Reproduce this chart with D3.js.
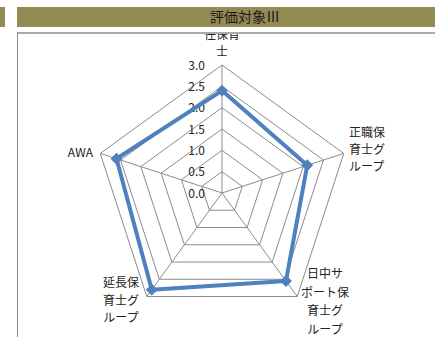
<!DOCTYPE html>
<html>
  <head>
    <meta charset="utf-8" />
    <style>
      body { margin: 0; background: #fff; }
      text { font-family: "Noto Sans CJK JP", "Noto Sans", sans-serif; }
    </style>
  </head>
  <body>
    <svg id="chart"></svg>
    <script src="https://d3js.org/d3.v7.min.js"></script>
    <script>
      const title = "評価対象Ⅲ";
      const categories = [
        ["任保育", "士"],
        ["正職保", "育士グ", "ループ"],
        ["日中サ", "ポート保", "育士グ", "ループ"],
        ["延長保", "育士グ", "ループ"],
        ["AWA"]
      ];
      const values = [2.4, 2.1, 2.55, 2.8, 2.6];
      const ticks = [0, 0.5, 1.0, 1.5, 2.0, 2.5, 3.0];

      const width = 435, height = 339;
      const cx = 222, cy = 193, radius = 128;

      const svg = d3.select("#chart").attr("width", width).attr("height", height);

      // title bar
      svg.append("rect").attr("x", 0).attr("y", 7).attr("width", 5).attr("height", 20).attr("fill", "#948a54");
      svg.append("rect").attr("x", 17).attr("y", 7).attr("width", width - 17).attr("height", 20).attr("fill", "#948a54");
      svg.append("text").attr("x", 245).attr("y", 22).attr("text-anchor", "middle")
        .attr("font-size", 14).attr("fill", "#1a1a1a").text(title);

      // chart area, clipped at its top border
      svg.append("clipPath").attr("id", "area")
        .append("rect").attr("x", 17).attr("y", 34).attr("width", width).attr("height", height);
      const g = svg.append("g").attr("clip-path", "url(#area)");

      svg.append("line").attr("x1", 17).attr("x2", width).attr("y1", 33).attr("y2", 33)
        .attr("stroke", "#aaa").attr("stroke-width", 2);
      svg.append("line").attr("x1", 17.5).attr("x2", 17.5).attr("y1", 33).attr("y2", 337)
        .attr("stroke", "#888").attr("stroke-width", 1);

      const r = d3.scaleLinear().domain([0, 3]).range([0, radius]);
      const angle = (i) => (i * 2 * Math.PI) / categories.length - Math.PI / 2;
      const pt = (i, v) => [cx + r(v) * Math.cos(angle(i)), cy + r(v) * Math.sin(angle(i))];

      // grid rings
      ticks.slice(1).forEach((t) => {
        g.append("polygon")
          .attr("points", categories.map((c, i) => pt(i, t).join(",")).join(" "))
          .attr("fill", "none").attr("stroke", "#8c8c8c").attr("stroke-width", 1);
      });
      // spokes
      categories.forEach((c, i) => {
        const [x, y] = pt(i, 3);
        g.append("line").attr("x1", cx).attr("y1", cy).attr("x2", x).attr("y2", y)
          .attr("stroke", "#8c8c8c").attr("stroke-width", 1);
      });

      // tick labels
      ticks.forEach((t) => {
        g.append("text").attr("x", 205).attr("y", cy - r(t) + 4.5)
          .attr("text-anchor", "end").attr("font-size", 12).attr("fill", "#222")
          .text(t.toFixed(1));
      });

      // category labels
      const labelPos = [
        { x: 222, y: 39, anchor: "middle", lh: 17 },
        { x: 349, y: 137, anchor: "start", lh: 17 },
        { x: 325, y: 278, anchor: "middle", lh: 18.5 },
        { x: 121, y: 287, anchor: "middle", lh: 17.5 },
        { x: 93, y: 157, anchor: "end", lh: 17 }
      ];
      categories.forEach((lines, i) => {
        const p = labelPos[i];
        const t = g.append("text").attr("font-size", 12).attr("fill", "#222")
          .attr("text-anchor", p.anchor);
        lines.forEach((l, k) => {
          t.append("tspan").attr("x", p.x).attr("y", p.y + k * p.lh).text(l);
        });
      });

      // series
      const line = d3.line().curve(d3.curveLinearClosed)
        .x((d, i) => pt(i, d)[0]).y((d, i) => pt(i, d)[1]);
      g.append("path").datum(values).attr("d", line)
        .attr("fill", "none").attr("stroke", "#4f81bd").attr("stroke-width", 4)
        .attr("stroke-linejoin", "round");
      g.selectAll(".marker").data(values).join("path")
        .attr("class", "marker")
        .attr("d", d3.symbol(d3.symbolDiamond2, 90)())
        .attr("transform", (d, i) => `translate(${pt(i, d)[0]},${pt(i, d)[1]})`)
        .attr("fill", "#4f81bd");
    </script>
  </body>
</html>
